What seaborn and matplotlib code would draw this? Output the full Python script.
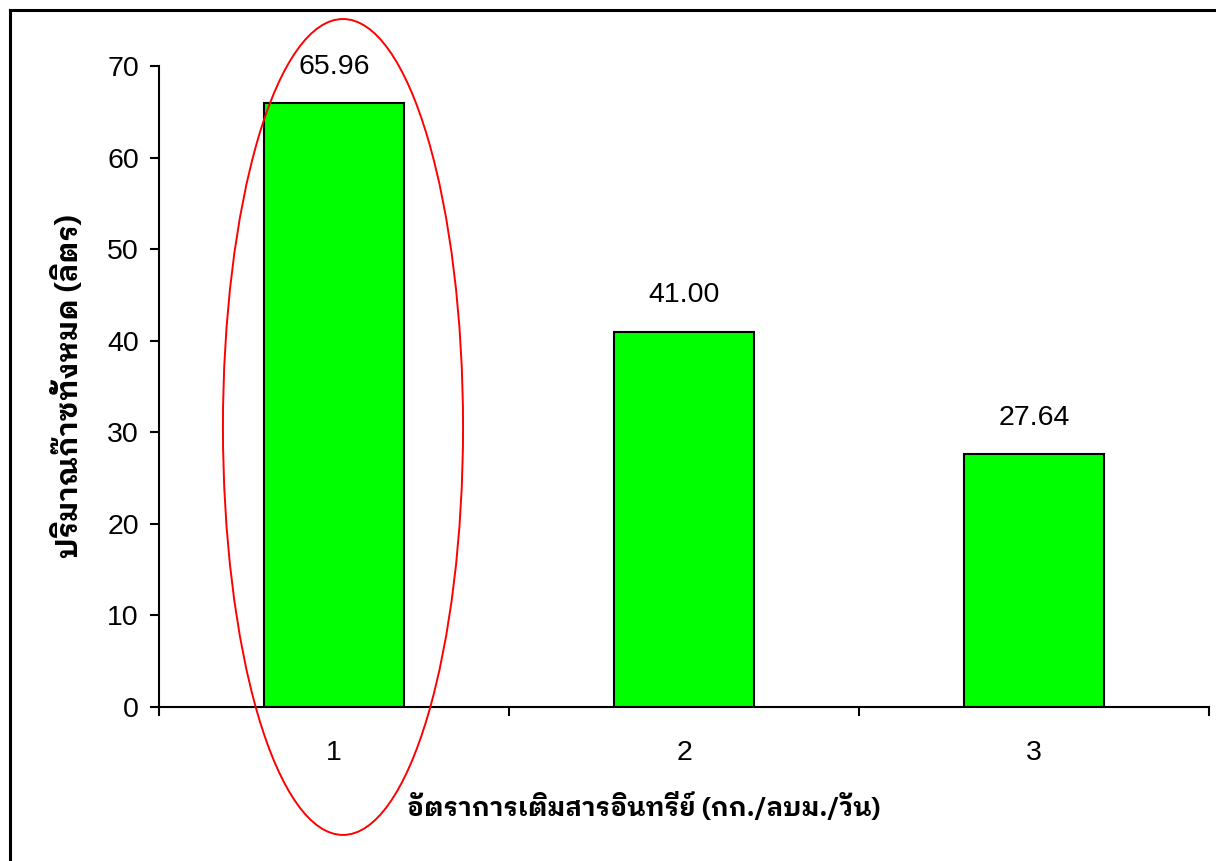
import matplotlib
matplotlib.use("Agg")
import matplotlib.pyplot as plt
from matplotlib.patches import Ellipse
from matplotlib.lines import Line2D
from matplotlib.ticker import FixedLocator, MultipleLocator
import seaborn as sns

# Data
categories = ["1", "2", "3"]
gas_volume = [65.96, 41.00, 27.64]
value_labels = ["65.96", "41.00", "27.64"]
x_title = "อัตราการเติมสารอินทรีย์ (กก./ลบม./วัน)"
y_title = "ปริมาณก๊าซทั้งหมด (ลิตร)"

sns.set_theme(style="white")
plt.rcParams["font.family"] = ["Liberation Sans", "DejaVu Sans"]
plt.rcParams["text.color"] = "black"
plt.rcParams["xtick.color"] = "black"
plt.rcParams["ytick.color"] = "black"
plt.rcParams["xtick.labelcolor"] = "black"
plt.rcParams["ytick.labelcolor"] = "black"
thai_font = ["IBM Plex Sans Thai Looped", "Noto Sans Thai Looped",
             "Liberation Sans", "DejaVu Sans"]

fig = plt.figure(figsize=(12.16, 8.61), dpi=100)
ax = fig.add_axes([159 / 1216, 1 - 707 / 861, 1050 / 1216, 641 / 861])

sns.barplot(x=categories, y=gas_volume, ax=ax, width=0.4, color="#00FF00",
            saturation=1, edgecolor="black", linewidth=1.5)

ax.set_xlim(-0.5, 2.5)
ax.set_ylim(0, 70)
ax.yaxis.set_major_locator(MultipleLocator(10))

# Value labels above bars
for i, (v, lab) in enumerate(zip(gas_volume, value_labels)):
    ax.annotate(lab, xy=(i, v), xytext=(0, 26), textcoords="offset points",
                ha="center", va="center", fontsize=20.5, color="black")

# Spines and ticks
for side in ("top", "right"):
    ax.spines[side].set_visible(False)
for side in ("left", "bottom"):
    ax.spines[side].set_color("black")
    ax.spines[side].set_linewidth(1.5)

ax.tick_params(axis="y", which="major", direction="out", length=6.5, width=1.5,
               color="black", labelcolor="black", labelsize=20.5, pad=8, left=True)
ax.tick_params(axis="x", which="major", length=0, labelsize=20.5,
               labelcolor="black", pad=24)
ax.xaxis.set_minor_locator(FixedLocator([-0.5, 0.5, 1.5, 2.5]))
ax.tick_params(axis="x", which="minor", direction="out", length=6.5, width=1.5,
               color="black", bottom=True)
ax.set_xlabel("")
ax.set_ylabel("")

# Axis titles
fig.text(644 / 1216, 1 - 807 / 861, x_title, ha="center", va="center",
         fontsize=18.6, fontweight="bold", family=thai_font)
fig.text(68 / 1216, 1 - 386 / 861, y_title, ha="center", va="center",
         rotation=90, fontsize=21, fontweight="bold", family=thai_font)

# Highlight ring around the first bar
ring = Ellipse((0.0257, 30.58), width=0.686, height=89.1, fill=False,
               edgecolor="red", linewidth=1.4, clip_on=False, zorder=5)
ax.add_patch(ring)

# Chart-area border: left and top edges
bx, by = 9.5 / 1216, 1 - 9.5 / 861
fig.add_artist(Line2D([bx, bx], [0, by], transform=fig.transFigure,
                      color="black", linewidth=2.2, solid_capstyle="projecting"))
fig.add_artist(Line2D([bx, 1], [by, by], transform=fig.transFigure,
                      color="black", linewidth=2.2, solid_capstyle="projecting"))

fig.savefig("out.png", dpi=100)
